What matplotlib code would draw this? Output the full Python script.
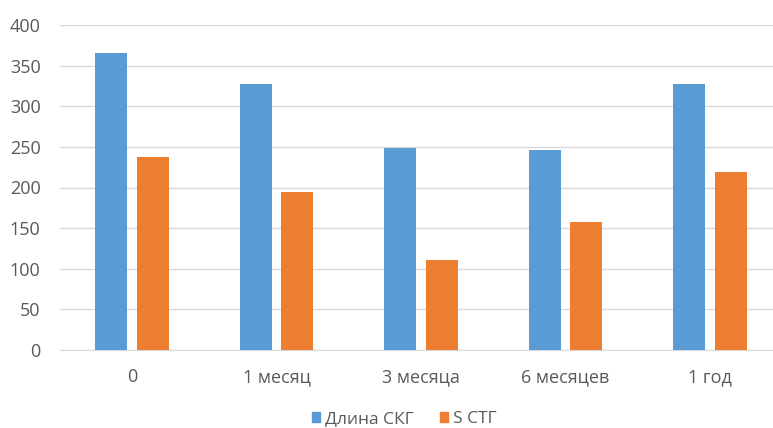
import numpy as np
import matplotlib
matplotlib.use("Agg")
import matplotlib.pyplot as plt
from matplotlib.patches import Patch

# data ---------------------------------------------------------------------#
categories = ["0", "1 месяц", "3 месяца", "6 месяцев", "1 год"]
dlina_skg = [365, 328, 249, 246, 327]
s_stg = [238, 194, 111, 157, 219]
series_names = ["Длина СКГ", "S СТГ"]
yticks = [0, 50, 100, 150, 200, 250, 300, 350, 400]

BLUE = "#5B9BD5"
ORANGE = "#ED7D31"
GRID = "#D9D9D9"
TEXT = "#595959"

plt.rcParams['font.family'] = ['Open Sans', 'DejaVu Sans']

W, H = 773, 428
fig = plt.figure(figsize=(W / 100, H / 100), dpi=100)
# axes from x=60 to ~782 px (right edge clipped in the original), y from 25 to 350 px
ax = fig.add_axes([60 / W, (H - 350) / H, 722 / W, 325 / H])

x = np.arange(len(categories))
bw = 0.222
off = 0.144
ax.bar(x - off, dlina_skg, bw, color=BLUE, zorder=3)
ax.bar(x + off, s_stg, bw, color=ORANGE, zorder=3)

ax.set_xlim(-0.5, len(categories) - 0.5)
ax.set_ylim(0, 400)
ax.set_yticks(yticks)
ax.set_xticks(x)
ax.set_xticklabels(categories)

ax.yaxis.grid(True, color=GRID, linewidth=1.0, zorder=0)
ax.set_axisbelow(True)
for s in ["top", "right", "left"]:
    ax.spines[s].set_visible(False)
ax.spines["bottom"].set_color(GRID)
ax.tick_params(axis="both", length=0, colors=TEXT, labelsize=13)
ax.tick_params(axis="x", pad=13)
ax.tick_params(axis="y", pad=14)

handles = [Patch(color=BLUE), Patch(color=ORANGE)]
fig.legend(handles, series_names, loc="center", bbox_to_anchor=(404 / W, 1 - 419 / H),
           ncol=2, frameon=False, fontsize=12.5, labelcolor=TEXT, borderpad=0.1,
           handlelength=0.5, handleheight=0.5, handletextpad=0.25, columnspacing=1.5)

fig.savefig("out.png", dpi=100, facecolor="white")
